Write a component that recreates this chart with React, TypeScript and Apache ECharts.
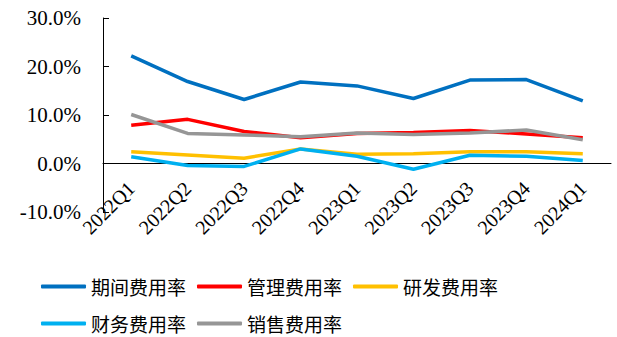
import React, { useEffect, useRef } from "react";
import * as echarts from "echarts";

const categories = ["2022Q1", "2022Q2", "2022Q3", "2022Q4", "2023Q1", "2023Q2", "2023Q3", "2023Q4", "2024Q1"];
const periodRate = [22.2, 16.9, 13.2, 16.8, 16.0, 13.4, 17.2, 17.3, 12.9];
const mgmtRate = [7.9, 9.1, 6.6, 5.3, 6.2, 6.4, 6.8, 6.1, 5.3];
const rdRate = [2.4, 1.75, 1.1, 3.0, 1.9, 2.0, 2.4, 2.4, 2.0];
const finRate = [1.4, -0.4, -0.6, 3.0, 1.5, -1.2, 1.7, 1.5, 0.6];
const salesRate = [10.1, 6.2, 5.9, 5.5, 6.3, 6.0, 6.3, 6.9, 4.9];
const seriesNames = ["期间费用率", "管理费用率", "研发费用率", "财务费用率", "销售费用率"];
const yTicks = [-10, 0, 10, 20, 30];

export default function App() {
  const ref = useRef<HTMLDivElement>(null);
  useEffect(() => {
    const chart = echarts.init(ref.current!, null, { renderer: "svg" });
    const colors = ["#0070C0", "#FF0000", "#FFC000", "#00B0F0", "#969696"];
    const data = [periodRate, mgmtRate, rdRate, finRate, salesRate];
    const legendCommon = {
      itemWidth: 45,
      itemHeight: 4,
      itemGap: 11,
      padding: 0,
      icon: "roundRect",
      textStyle: { fontFamily: "Noto Sans CJK SC", fontSize: 19, color: "#000" },
    };
    chart.setOption({
      animation: false,
      grid: { left: 103, right: 6, top: 18, bottom: 125, containLabel: false },
      legend: [
        { ...legendCommon, data: seriesNames.slice(0, 3), left: 41, top: 277 },
        { ...legendCommon, data: seriesNames.slice(3), left: 41, top: 314 },
      ],
      xAxis: {
        type: "category",
        data: categories,
        boundaryGap: true,
        axisLine: { onZero: true, lineStyle: { color: "#000", width: 1 } },
        axisTick: { inside: true, length: 6, lineStyle: { color: "#000" } },
        axisLabel: {
          rotate: 45,
          margin: -27,
          fontFamily: "Liberation Serif",
          fontSize: 20,
          color: "#000",
        },
      },
      yAxis: {
        type: "value",
        min: yTicks[0],
        max: yTicks[yTicks.length - 1],
        interval: 10,
        splitLine: { show: false },
        axisLine: { show: true, lineStyle: { color: "#000", width: 1 } },
        axisTick: { show: true, inside: true, length: 6, lineStyle: { color: "#000" } },
        axisLabel: {
          margin: 22,
          fontFamily: "Liberation Serif",
          fontSize: 21,
          color: "#000",
          formatter: (v: number) => v.toFixed(1) + "%",
        },
      },
      series: seriesNames.map((name, i) => ({
        name,
        type: "line",
        data: data[i],
        symbol: "none",
        showSymbol: false,
        lineStyle: { color: colors[i], width: 3.5 },
        itemStyle: { color: colors[i] },
      })),
    });
    return () => chart.dispose();
  }, []);
  return <div ref={ref} style={{ width: 617, height: 337, position: "absolute", left: 0, top: 0 }} />;
}
